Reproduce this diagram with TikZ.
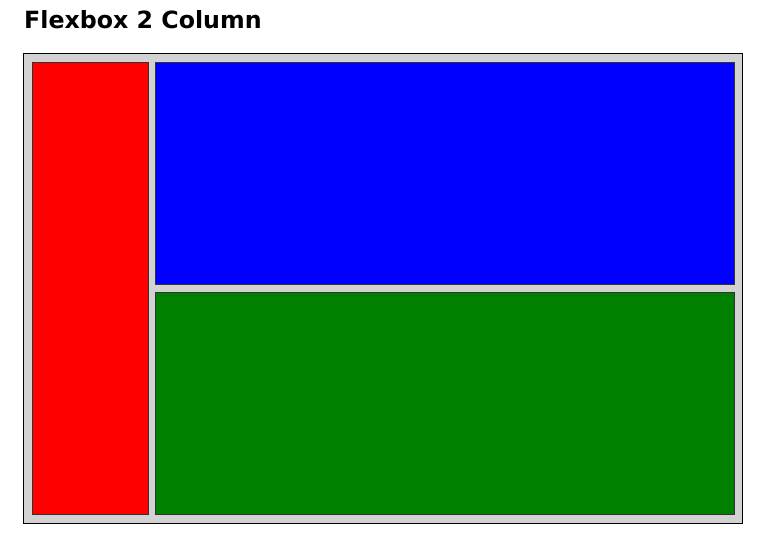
\documentclass[tikz,border=0pt]{standalone}
\usepackage{fontspec}
\setsansfont{DejaVu Sans}
\usepackage{tikz}
\usetikzlibrary{positioning}

\begin{document}
\begin{tikzpicture}[
  x=1pt, y=-1pt,
  node distance=7pt and 7pt,
  wrap/.style={draw=black, line width=1pt, fill=gray!35,
               minimum width=719pt, minimum height=470pt,
               inner sep=0pt, outer sep=0pt, anchor=north west},
  cell/.style={draw=black!80, line width=1pt, inner sep=0pt,
               outer sep=0pt, anchor=north west},
  ttl/.style={font=\sffamily\bfseries\fontsize{23.7}{28}\selectfont,
              inner sep=0pt, anchor=base west}
]
  \useasboundingbox[fill=white] (0,0) rectangle (770,555);

  \node[ttl] (title) at (24,28) {Flexbox 2 Column};

  \node[wrap] (box) at (23,53) {};

  \node[cell, fill=red, minimum width=116pt, minimum height=452pt]
        (side) at (32,62) {};
  \node[cell, fill=blue, minimum width=579pt, minimum height=222pt,
        right=7pt of side.north east, anchor=north west] (top) {};
  \node[cell, fill=green!50!black, minimum width=579pt, minimum height=222pt,
        below=8pt of top.south west, anchor=north west] (bottom) {};
\end{tikzpicture}
\end{document}
